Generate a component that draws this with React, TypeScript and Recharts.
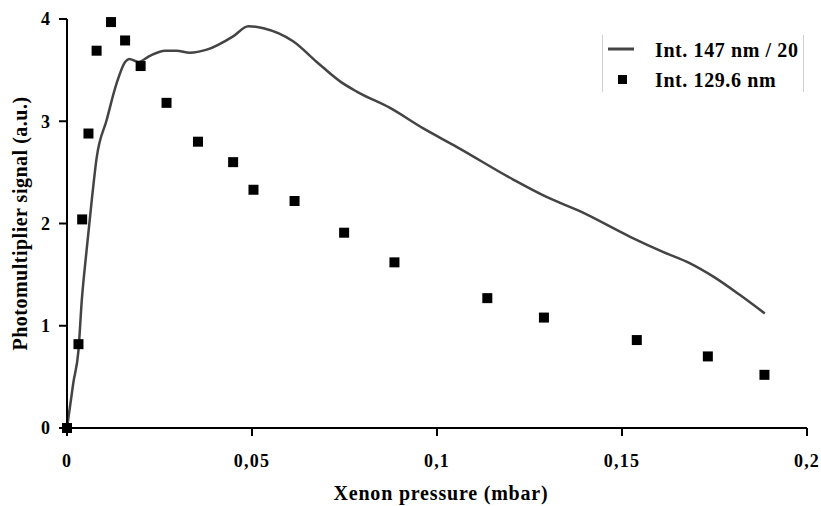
import React from 'react';
import { ComposedChart, Line, Scatter, XAxis, YAxis } from 'recharts';

// Int. 147 nm / 20 (continuous trace)
const lineX = [
  0, 0.0017, 0.0031, 0.004, 0.0053, 0.0067, 0.008, 0.0107, 0.0134, 0.0157, 0.0168, 0.0193,
  0.0224, 0.0265, 0.0296, 0.0332, 0.0378, 0.0449, 0.049, 0.0531, 0.0612, 0.0675, 0.0738,
  0.0783, 0.0873, 0.0963, 0.1053, 0.1206, 0.1296, 0.1386, 0.1522, 0.1612, 0.1684, 0.1747,
  0.1819, 0.1886,
];
const lineY = [
  0, 0.44, 0.76, 1.25, 1.74, 2.23, 2.64, 3.01, 3.37, 3.58, 3.61, 3.58,
  3.64, 3.69, 3.69, 3.67, 3.7, 3.83, 3.93, 3.91, 3.78, 3.58, 3.39,
  3.29, 3.13, 2.93, 2.75, 2.43, 2.26, 2.12, 1.87, 1.72, 1.61, 1.48,
  1.3, 1.12,
];

// Int. 129.6 nm (measured points)
const pointX = [
  0, 0.0031, 0.0041, 0.0058, 0.008, 0.0119, 0.0157, 0.0199, 0.0269, 0.0354, 0.0449,
  0.0504, 0.0615, 0.0749, 0.0885, 0.1136, 0.1289, 0.154, 0.1732, 0.1885,
];
const pointY = [
  0, 0.82, 2.04, 2.88, 3.69, 3.97, 3.79, 3.54, 3.18, 2.8, 2.6,
  2.33, 2.22, 1.91, 1.62, 1.27, 1.08, 0.86, 0.7, 0.52,
];

const xTicks = [0, 0.05, 0.1, 0.15, 0.2];
const yTicks = [0, 1, 2, 3, 4];

const lineName = 'Int. 147 nm / 20';
const pointName = 'Int. 129.6 nm';
const xTitle = 'Xenon pressure (mbar)';
const yTitle = 'Photomultiplier signal (a.u.)';

const lineData = lineX.map((x, i) => ({ x, y: lineY[i] }));
const pointData = pointX.map((x, i) => ({ x, y: pointY[i] }));

const FONT = '"Liberation Serif", "Times New Roman", serif';
const LINE_COLOR = '#444444';

const tickStyle = { fill: '#000', fontSize: 18, fontWeight: 700, fontFamily: FONT };

const SquareDot = (props: any) => {
  const { cx, cy } = props;
  if (cx == null || cy == null) return null;
  return <rect x={cx - 5} y={cy - 5} width={10} height={10} fill="#000" />;
};

// legend drawn as an overlay so it doesn't eat into the plot area
const LegendBox = () => (
  <div
    style={{
      position: 'absolute',
      left: 602,
      top: 35,
      width: 200,
      height: 57,
      borderLeft: '1px solid #d0d0d0',
      borderRight: '1px solid #d0d0d0',
    }}
  >
    <svg width={200} height={57} style={{ position: 'absolute', left: 0, top: 0 }}>
      <line x1={5} x2={31} y1={14} y2={14} stroke={LINE_COLOR} strokeWidth={3} />
      <rect x={15} y={40} width={9} height={9} fill="#000" />
      <text x={52} y={22} fontFamily={FONT} fontWeight={700} fontSize={20} letterSpacing={0.6}>
        {lineName}
      </text>
      <text x={52} y={52} fontFamily={FONT} fontWeight={700} fontSize={20} letterSpacing={0.6}>
        {pointName}
      </text>
    </svg>
  </div>
);

export default function App() {
  return (
    <div style={{ position: 'fixed', left: 0, top: 0, width: 821, height: 506, background: '#fff' }}>
      <ComposedChart width={821} height={506} margin={{ top: 19, right: 14, bottom: 0, left: 27 }}>
        <XAxis
          type="number"
          dataKey="x"
          domain={[0, 0.2]}
          ticks={xTicks}
          tickFormatter={(v: number) => String(v).replace('.', ',')}
          tick={{ ...tickStyle, letterSpacing: 1.2 }}
          tickSize={8}
          tickMargin={18}
          height={78}
          axisLine={{ stroke: '#000', strokeWidth: 2 }}
          tickLine={{ stroke: '#000', strokeWidth: 2 }}
          label={{
            content: (p: any) => {
              const vb = p.viewBox;
              return (
                <text
                  x={vb.x + vb.width / 2 + 4}
                  y={vb.y + 72}
                  textAnchor="middle"
                  fontFamily={FONT}
                  fontWeight={700}
                  fontSize={20}
                  letterSpacing={0.8}
                  fill="#000"
                >
                  {xTitle}
                </text>
              );
            },
          }}
        />
        <YAxis
          type="number"
          dataKey="y"
          domain={[0, 4]}
          ticks={yTicks}
          tick={tickStyle}
          tickSize={8}
          tickMargin={9}
          width={40}
          axisLine={{ stroke: '#000', strokeWidth: 2 }}
          tickLine={{ stroke: '#000', strokeWidth: 2 }}
          label={{
            content: (p: any) => {
              const vb = p.viewBox;
              const cx = vb.x - 7;
              const cy = vb.y + vb.height / 2;
              return (
                <text
                  x={cx}
                  y={cy}
                  textAnchor="middle"
                  dominantBaseline="central"
                  transform={`rotate(-90, ${cx}, ${cy})`}
                  fontFamily={FONT}
                  fontWeight={700}
                  fontSize={20}
                  letterSpacing={0.5}
                  fill="#000"
                >
                  {yTitle}
                </text>
              );
            },
          }}
        />
        <Line
          data={lineData}
          dataKey="y"
          name={lineName}
          type="monotone"
          stroke={LINE_COLOR}
          strokeWidth={2.5}
          dot={false}
          activeDot={false}
          isAnimationActive={false}
        />
        <Scatter
          data={pointData}
          dataKey="y"
          name={pointName}
          fill="#000"
          shape={SquareDot}
          isAnimationActive={false}
        />
      </ComposedChart>
      <LegendBox />
    </div>
  );
}
